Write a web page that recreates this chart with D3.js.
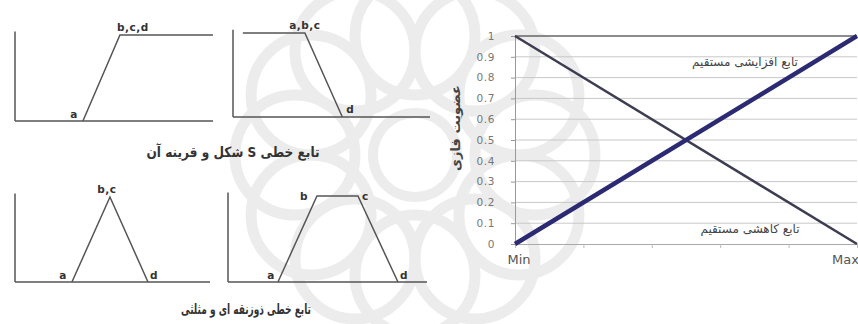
<!DOCTYPE html>
<html>
<head>
<meta charset="utf-8">
<script src="https://cdn.jsdelivr.net/npm/d3@7"></script>
<style>
  body { margin: 0; background: #fff; }
  svg { display: block; }
</style>
</head>
<body>
<div id="chart"></div>
<script>
// right chart data
var yTicks = [0, 0.1, 0.2, 0.3, 0.4, 0.5, 0.6, 0.7, 0.8, 0.9, 1];
var xTicks = [0, 1, 2, 3, 4, 5];
var xLabels = [{ x: 0, text: 'Min' }, { x: 5, text: 'Max' }];
var increasing = [{ x: 0, y: 0 }, { x: 5, y: 1 }];
var decreasing = [{ x: 0, y: 1 }, { x: 5, y: 0 }];
var yTitle = 'عضویت فازی';
var incName = 'تابع افزایشی مستقیم';
var decName = 'تابع کاهشی مستقیم';

// left diagrams data (x in 0..10, y in 0..1)
var sShape = [[3.43, 0], [5.3, 1], [10, 1]];
var zShape = [[0.5, 1], [3.65, 1], [5.55, 0]];
var triShape = [[2.92, 0], [4.87, 1], [6.82, 0]];
var trapShape = [[2.51, 0], [4.47, 1], [6.53, 1], [8.54, 0]];
var caption1 = 'تابع خطی S شکل و قرینه آن';
var caption2 = 'تابع خطی ذوزنقه ای و مثلثی';

var width = 858,
    height = 324;

var lineColor = '#555',
    textColor = '#333',
    gridColor = '#c8c8c8';

var svg = d3.select('#chart')
  .append('svg')
  .attr('width', width)
  .attr('height', height);

// faint watermark in background
var wm = svg.append('g')
  .attr('transform', 'translate(415,155)')
  .style('fill', 'none')
  .style('stroke', '#ececec');

wm.selectAll('circle.petal')
  .data(d3.range(12))
  .enter()
  .append('circle')
  .attr('class', 'petal')
  .attr('cx', function(d) { return 120 * Math.cos(d * Math.PI / 6); })
  .attr('cy', function(d) { return 120 * Math.sin(d * Math.PI / 6); })
  .attr('r', 60)
  .style('stroke-width', 11);

wm.append('circle')
  .attr('r', 42)
  .style('stroke-width', 10);

// ---- left diagrams ----
function drawDiagram(box, shape, labels) {
  var x = d3.scaleLinear().domain([0, 10]).range([box.x0, box.x1]);
  var y = d3.scaleLinear().domain([0, 1]).range([box.base, box.top]);
  var g = svg.append('g');

  // axes
  g.append('line')
    .style('stroke', lineColor)
    .style('stroke-width', 1.5)
    .attr('x1', x(0)).attr('y1', y(0))
    .attr('x2', x(0)).attr('y2', y(1.04));
  g.append('line')
    .style('stroke', lineColor)
    .style('stroke-width', 1.5)
    .attr('x1', x(0)).attr('y1', y(0))
    .attr('x2', x(10)).attr('y2', y(0));

  var line = d3.line()
    .x(function(d) { return x(d[0]); })
    .y(function(d) { return y(d[1]); });

  g.append('path')
    .datum(shape)
    .attr('d', line)
    .style('fill', 'none')
    .style('stroke', lineColor)
    .style('stroke-width', 1.5);

  g.selectAll('text')
    .data(labels)
    .enter()
    .append('text')
    .text(function(d) { return d.text; })
    .attr('x', function(d) { return x(d.x) + d.dx; })
    .attr('y', function(d) { return y(d.y) + d.dy; })
    .attr('text-anchor', function(d) { return d.anchor; })
    .attr('font-family', 'DejaVu Sans, sans-serif')
    .attr('font-weight', 'bold')
    .attr('font-size', '10.5px')
    .attr('letter-spacing', '0.5px')
    .attr('fill', textColor);
}

drawDiagram({ x0: 15, x1: 213, base: 121, top: 35 }, sShape, [
  { text: 'a', x: 3.43, y: 0, dx: -5, dy: -3, anchor: 'end' },
  { text: 'b,c,d', x: 5.3, y: 1, dx: -3, dy: -4, anchor: 'start' }
]);
drawDiagram({ x0: 233, x1: 430, base: 117, top: 33 }, zShape, [
  { text: 'a,b,c', x: 3.65, y: 1, dx: 0, dy: -4, anchor: 'middle' },
  { text: 'd', x: 5.55, y: 0, dx: 4, dy: -4, anchor: 'start' }
]);
drawDiagram({ x0: 15, x1: 210, base: 282, top: 197 }, triShape, [
  { text: 'a', x: 2.92, y: 0, dx: -5, dy: -3, anchor: 'end' },
  { text: 'b,c', x: 4.87, y: 1, dx: -3, dy: -4, anchor: 'middle' },
  { text: 'd', x: 6.82, y: 0, dx: 2, dy: -3, anchor: 'start' }
]);
drawDiagram({ x0: 228, x1: 427, base: 282, top: 196 }, trapShape, [
  { text: 'a', x: 2.51, y: 0, dx: -3, dy: -3, anchor: 'end' },
  { text: 'b', x: 4.47, y: 1, dx: -9, dy: 4, anchor: 'end' },
  { text: 'c', x: 6.53, y: 1, dx: 4, dy: 4, anchor: 'start' },
  { text: 'd', x: 8.54, y: 0, dx: 2, dy: -3, anchor: 'start' }
]);

svg.append('text')
  .text(caption1)
  .attr('x', 233)
  .attr('y', 157)
  .attr('text-anchor', 'middle')
  .attr('direction', 'rtl')
  .attr('textLength', 173)
  .attr('lengthAdjust', 'spacingAndGlyphs')
  .attr('font-family', 'DejaVu Sans, sans-serif')
  .attr('font-weight', 'bold')
  .attr('font-size', '14px')
  .attr('fill', textColor);

svg.append('text')
  .text(caption2)
  .attr('x', 246)
  .attr('y', 314)
  .attr('text-anchor', 'middle')
  .attr('direction', 'rtl')
  .attr('textLength', 130)
  .attr('lengthAdjust', 'spacingAndGlyphs')
  .attr('font-family', 'DejaVu Sans, sans-serif')
  .attr('font-weight', 'bold')
  .attr('font-size', '14px')
  .attr('fill', textColor);

// ---- right chart ----
var x = d3.scaleLinear().domain([0, 5]).range([515, 857]);
var y = d3.scaleLinear().domain([0, 1]).range([244, 36]);

var chart = svg.append('g');

// gridlines
chart.selectAll('line.grid')
  .data(yTicks.filter(function(d) { return d > 0 && d < 1; }))
  .enter()
  .append('line')
  .attr('class', 'grid')
  .style('stroke', gridColor)
  .attr('x1', x(0)).attr('x2', x(5))
  .attr('y1', function(d) { return y(d); })
  .attr('y2', function(d) { return y(d); });

// top border
chart.append('line')
  .style('stroke', '#666')
  .style('stroke-width', 1.5)
  .attr('x1', x(0)).attr('x2', x(5))
  .attr('y1', y(1)).attr('y2', y(1));

// y axis
var yAxis = d3.axisLeft(y)
  .tickValues(yTicks)
  .tickFormat(function(d) { return d3.format('~g')(d); })
  .tickSize(4)
  .tickPadding(16);

var ya = chart.append('g')
  .attr('transform', 'translate(' + x(0) + ',0)')
  .call(yAxis);
ya.select('.domain').style('stroke', '#999');
ya.selectAll('.tick line').style('stroke', '#999');
ya.selectAll('.tick text')
  .attr('font-family', 'DejaVu Sans, sans-serif')
  .attr('font-size', '10.5px')
  .attr('letter-spacing', '0.6px')
  .attr('fill', '#777');

// x axis
var xAxis = d3.axisBottom(x)
  .tickValues(xTicks)
  .tickFormat('')
  .tickSize(4);

var xa = chart.append('g')
  .attr('transform', 'translate(0,' + y(0) + ')')
  .call(xAxis);
xa.select('.domain').style('stroke', '#aaa');
xa.selectAll('.tick line').style('stroke', '#bbb');

chart.selectAll('text.xlab')
  .data(xLabels)
  .enter()
  .append('text')
  .attr('class', 'xlab')
  .text(function(d) { return d.text; })
  .attr('x', function(d) { return d.x === 0 ? x(d.x) + 4 : x(d.x) + 2; })
  .attr('y', y(0) + 20)
  .attr('text-anchor', function(d) { return d.x === 0 ? 'middle' : 'end'; })
  .attr('font-family', 'DejaVu Sans, sans-serif')
  .attr('font-size', '13px')
  .attr('fill', '#555');

// y title
chart.append('text')
  .text(yTitle)
  .attr('transform', 'translate(460,128) rotate(-90)')
  .attr('text-anchor', 'middle')
  .attr('direction', 'rtl')
  .attr('font-family', 'DejaVu Sans, sans-serif')
  .attr('font-weight', 'bold')
  .attr('font-size', '13px')
  .attr('fill', '#444');

var line = d3.line()
  .x(function(d) { return x(d.x); })
  .y(function(d) { return y(d.y); });

chart.append('path')
  .datum(decreasing)
  .attr('d', line)
  .style('fill', 'none')
  .style('stroke', '#3d3d52')
  .style('stroke-width', 2.5);

chart.append('path')
  .datum(increasing)
  .attr('d', line)
  .style('fill', 'none')
  .style('stroke', '#2c2a72')
  .style('stroke-width', 4.5);

// series names
chart.append('text')
  .text(incName)
  .attr('x', 745)
  .attr('y', 66)
  .attr('text-anchor', 'middle')
  .attr('direction', 'rtl')
  .attr('font-family', 'DejaVu Sans, sans-serif')
  .attr('font-size', '12px')
  .attr('fill', '#444');

chart.append('text')
  .text(decName)
  .attr('x', 750)
  .attr('y', 233)
  .attr('text-anchor', 'middle')
  .attr('direction', 'rtl')
  .attr('font-family', 'DejaVu Sans, sans-serif')
  .attr('font-size', '12px')
  .attr('fill', '#444');
</script>
</body>
</html>
